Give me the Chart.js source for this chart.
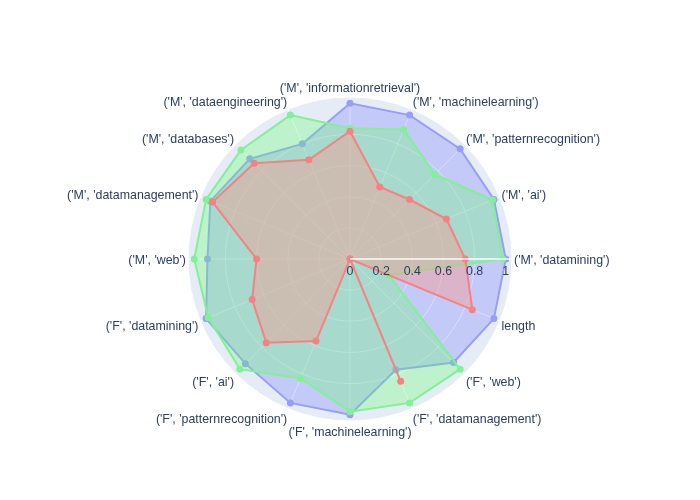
<!DOCTYPE html>
<html>
<head>
<meta charset="utf-8">
<script src="https://cdn.jsdelivr.net/npm/chart.js@4/dist/chart.umd.min.js"></script>
<style>
  html, body { margin: 0; padding: 0; background: #ffffff; }
  #wrap { width: 700px; height: 500px; }
</style>
</head>
<body>
<div id="wrap"><canvas id="c" width="700" height="500"></canvas></div>
<script>
// Categories in the reference's order (counter-clockwise, starting at 3 o'clock)
const categories = [
  "('M', 'datamining')",
  "('M', 'ai')",
  "('M', 'patternrecognition')",
  "('M', 'machinelearning')",
  "('M', 'informationretrieval')",
  "('M', 'dataengineering')",
  "('M', 'databases')",
  "('M', 'datamanagement')",
  "('M', 'web')",
  "('F', 'datamining')",
  "('F', 'ai')",
  "('F', 'patternrecognition')",
  "('F', 'machinelearning')",
  "('F', 'datamanagement')",
  "('F', 'web')",
  "length"
];
const blueValues  = [1.00, 1.00, 1.00, 1.00, 1.00, 0.80, 0.91, 0.97, 0.915, 1.00, 0.95, 1.00, 1.00, 0.77, 0.94, 1.00];
const greenValues = [0.98, 0.99, 0.77, 0.90, 0.84, 1.00, 0.99, 1.00, 1.00, 0.985, 1.00, 0.83, 0.98, 1.00, 1.00, 0.27];
const redValues   = [0.74, 0.67, 0.54, 0.50, 0.82, 0.69, 0.87, 0.955, 0.60, 0.68, 0.76, 0.57, 0.00, 0.85, 0.00, 0.85];
const radialTickValues = [0, 0.2, 0.4, 0.6, 0.8, 1];
const radialTickLabels = ['0', '0.2', '0.4', '0.6', '0.8', '1'];
const radialMax = 1.04;

// Chart.js radar runs clockwise; the reference runs counter-clockwise.
const order = categories.map((_, i) => i === 0 ? 0 : categories.length - i);
const reorder = arr => order.map(i => arr[i]);

const FONT = '"Liberation Sans", Arial, sans-serif';
const TEXT = '#2a3f5f';
const BG = '#E5ECF6';

const bgPlugin = {
  id: 'polarBg',
  beforeDraw(chart) {
    const s = chart.scales.r, ctx = chart.ctx;
    ctx.save();
    ctx.fillStyle = BG;
    ctx.beginPath();
    ctx.arc(s.xCenter, s.yCenter, s.drawingArea, 0, Math.PI * 2);
    ctx.fill();
    ctx.restore();
  }
};

const labelPlugin = {
  id: 'polarLabels',
  afterDatasetsDraw(chart) {
    const s = chart.scales.r, ctx = chart.ctx;
    ctx.save();
    // radial axis line (drawn above traces)
    const end = s.getPointPosition(0, s.drawingArea);
    ctx.strokeStyle = 'rgba(255,255,255,0.9)';
    ctx.lineWidth = 1.5;
    ctx.beginPath();
    ctx.moveTo(s.xCenter, s.yCenter);
    ctx.lineTo(end.x, end.y);
    ctx.stroke();

    ctx.font = '12.4px ' + FONT;
    ctx.fillStyle = TEXT;
    // radial tick labels
    ctx.textAlign = 'center';
    ctx.textBaseline = 'middle';
    radialTickValues.forEach((v, i) => {
      const d = s.getDistanceFromCenterForValue(v);
      const p = s.getPointPosition(0, d);
      ctx.fillText(radialTickLabels[i], p.x, p.y + 12.5);
    });
    // angular labels
    chart.data.labels.forEach((lab, i) => {
      const R = s.drawingArea;
      const p = s.getPointPosition(i, R);
      const cx = (p.x - s.xCenter) / R, sy = (p.y - s.yCenter) / R;
      let align = 'center';
      if (cx > 0.05) align = 'left'; else if (cx < -0.05) align = 'right';
      ctx.textAlign = align;
      ctx.textBaseline = 'middle';
      ctx.fillText(lab, p.x + cx * 2, p.y + 2 + sy * 10);
    });
    ctx.restore();
  }
};

new Chart(document.getElementById('c'), {
  type: 'radar',
  data: {
    labels: reorder(categories),
    datasets: [
      {
        data: reorder(blueValues),
        order: 2,
        borderColor: 'rgb(150,158,250)',
        backgroundColor: 'rgba(0,0,255,0.14)',
        pointBackgroundColor: 'rgb(150,158,250)',
        fill: true
      },
      {
        data: reorder(greenValues),
        order: 1,
        borderColor: 'rgb(130,240,150)',
        backgroundColor: 'rgba(100,255,110,0.3)',
        pointBackgroundColor: 'rgb(130,240,150)',
        fill: true
      },
      {
        data: reorder(redValues),
        order: 0,
        borderColor: 'rgb(245,130,130)',
        backgroundColor: 'rgba(250,150,140,0.42)',
        pointBackgroundColor: 'rgb(245,130,130)',
        fill: true
      }
    ]
  },
  options: {
    responsive: false,
    animation: false,
    layout: { padding: { left: 188, right: 188, top: 97, bottom: 79 } },
    elements: {
      line: { borderWidth: 2, tension: 0 },
      point: { radius: 3.5, borderWidth: 0, hoverRadius: 3.5 }
    },
    plugins: { legend: { display: false }, tooltip: { enabled: false } },
    scales: {
      r: {
        min: 0,
        max: radialMax,
        startAngle: 90,
        ticks: { display: false, stepSize: 0.2 },
        pointLabels: { display: false },
        grid: { circular: true, color: '#ffffff', lineWidth: 1 },
        angleLines: { display: true, color: '#ffffff', lineWidth: 1 }
      }
    }
  },
  plugins: [bgPlugin, labelPlugin]
});
</script>
</body>
</html>
